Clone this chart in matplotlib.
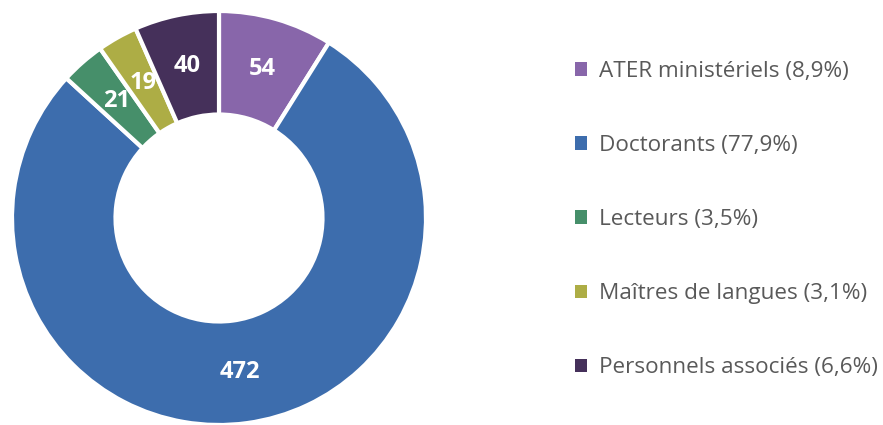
import numpy as np
import matplotlib.pyplot as plt
from matplotlib.patches import Patch

plt.rcParams['font.family'] = ['Open Sans', 'DejaVu Sans']

categories = ["ATER ministériels", "Doctorants", "Lecteurs", "Maîtres de langues", "Personnels associés"]
values = [54, 472, 21, 19, 40]
shares = ["8,9%", "77,9%", "3,5%", "3,1%", "6,6%"]
colors = ["#8866AA", "#3D6DAD", "#468F6A", "#ADAD45", "#45305A"]

fig = plt.figure(figsize=(8.83, 4.25), dpi=100)
ax = fig.add_axes([12 / 883, 0 / 425, 414 / 883, 414 / 425])

wedges, _ = ax.pie(values, colors=colors, startangle=90, counterclock=False,
                   radius=1, wedgeprops=dict(width=0.5, edgecolor="white", linewidth=3))

# value labels in the middle of the ring
total = sum(values)
angle = 90
for v, w in zip(values, wedges):
    span = v / total * 360
    mid = np.deg2rad(angle - span / 2)
    r = 0.75
    ax.text(r * np.cos(mid), r * np.sin(mid), str(v), ha="center", va="center",
            color="white", fontsize=17, fontweight="bold")
    angle -= span

ax.set_xlim(-1, 1)
ax.set_ylim(-1, 1)
ax.set_aspect("equal")
ax.axis("off")

handles = [Patch(facecolor=c) for c in colors]
labels = [f"{c} ({s})" for c, s in zip(categories, shares)]
fig.legend(handles, labels, loc="upper left", bbox_to_anchor=(575 / 883, 1 - 61 / 425),
           frameon=False, fontsize=16.2, labelcolor="#595959", borderpad=0, borderaxespad=0,
           handlelength=0.55, handleheight=0.55, handletextpad=0.5, labelspacing=2.36)

fig.savefig("out.png", dpi=100)
